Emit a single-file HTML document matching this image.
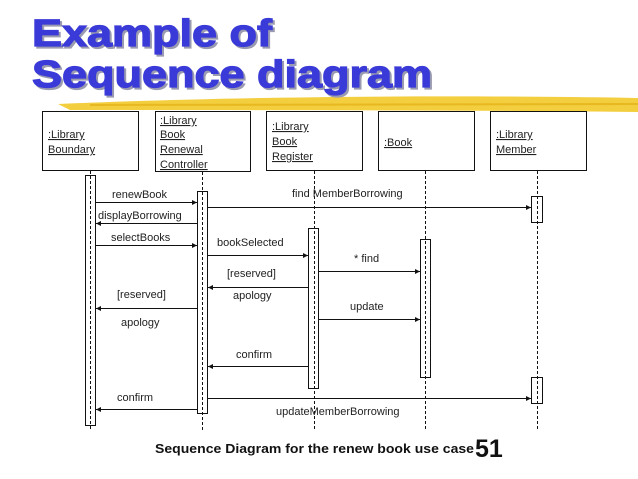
<!DOCTYPE html>
<html><head><meta charset="utf-8"><style>
html,body{margin:0;padding:0;background:#fff;}
svg{display:block;}
.t{font-family:"Liberation Sans",Arial,sans-serif;font-size:11px;fill:#222;}
.h{font-family:"Liberation Sans",Arial,sans-serif;font-weight:bold;font-size:38px;fill:#3a3ad8;stroke:#3a3ad8;stroke-width:1.2px;}
</style></head><body>
<svg width="638" height="479" viewBox="0 0 638 479" xmlns="http://www.w3.org/2000/svg">
<defs><marker id="a" markerWidth="6" markerHeight="6" refX="5" refY="3" orient="auto" markerUnits="userSpaceOnUse"><path d="M0,0.5 L5,3 L0,5.5z" fill="#111"/></marker></defs>
<!-- yellow brush -->
<path d="M58,104 C200,98 400,94 638,98 L638,112 C450,110 250,110 70,110 Z" fill="#f2c92a" opacity="0.9"/>
<path d="M90,105 L638,104" stroke="#e8b820" stroke-width="2"/>
<!-- title -->
<text class="h" x="34" y="48" textLength="240" lengthAdjust="spacingAndGlyphs" style="fill:#9a9ab0;stroke:#9a9ab0">Example of</text>
<text class="h" x="32" y="46" textLength="240" lengthAdjust="spacingAndGlyphs">Example of</text>
<text class="h" x="34" y="89" textLength="400" lengthAdjust="spacingAndGlyphs" style="fill:#9a9ab0;stroke:#9a9ab0">Sequence diagram</text>
<text class="h" x="32" y="87" textLength="400" lengthAdjust="spacingAndGlyphs">Sequence diagram</text>
<!-- boxes -->
<g fill="#fff" stroke="#111" stroke-width="1">
<rect x="42.5" y="111.5" width="96" height="59"/>
<rect x="155.5" y="111.5" width="95" height="60"/>
<rect x="266.5" y="111.5" width="96" height="59"/>
<rect x="378.5" y="111.5" width="96" height="59"/>
<rect x="490.5" y="111.5" width="96" height="59"/>
</g>
<g class="t" text-decoration="underline">
<text x="48" y="138">:Library</text><text x="48" y="153">Boundary</text>
<text x="160" y="124">:Library</text><text x="160" y="138">Book</text><text x="160" y="153">Renewal</text><text x="160" y="168">Controller</text>
<text x="272" y="130">:Library</text><text x="272" y="145">Book</text><text x="272" y="160">Register</text>
<text x="384" y="146">:Book</text>
<text x="496" y="138">:Library</text><text x="496" y="153">Member</text>
</g>
<!-- lifelines -->
<g stroke="#111" stroke-dasharray="3,2">
<line x1="90.5" y1="171" x2="90.5" y2="431"/>
<line x1="202.5" y1="172" x2="202.5" y2="431"/>
<line x1="314.5" y1="171" x2="314.5" y2="431"/>
<line x1="425.5" y1="171" x2="425.5" y2="431"/>
<line x1="537.5" y1="171" x2="537.5" y2="431"/>
</g>
<!-- activations -->
<g fill="none" stroke="#111">
<rect x="85.5" y="175.5" width="10" height="250"/>
<rect x="197.5" y="191.5" width="10" height="222"/>
<rect x="308.5" y="228.5" width="10" height="160"/>
<rect x="420.5" y="239.5" width="10" height="138"/>
<rect x="531.5" y="196.5" width="11" height="26"/>
<rect x="531.5" y="377.5" width="11" height="26"/>
</g>
<!-- messages -->
<g stroke="#111" marker-end="url(#a)">
<line x1="96" y1="202.5" x2="197" y2="202.5"/>
<line x1="197" y1="223.5" x2="96" y2="223.5"/>
<line x1="96" y1="245.5" x2="197" y2="245.5"/>
<line x1="208" y1="207.5" x2="531" y2="207.5"/>
<line x1="208" y1="255.5" x2="308" y2="255.5"/>
<line x1="308" y1="287.5" x2="208" y2="287.5"/>
<line x1="197" y1="308.5" x2="96" y2="308.5"/>
<line x1="319" y1="271.5" x2="420" y2="271.5"/>
<line x1="319" y1="319.5" x2="420" y2="319.5"/>
<line x1="308" y1="366.5" x2="208" y2="366.5"/>
<line x1="208" y1="398.5" x2="531" y2="398.5"/>
<line x1="197" y1="409.5" x2="96" y2="409.5"/>
</g>
<g class="t">
<text x="112" y="198">renewBook</text>
<text x="98" y="219">displayBorrowing</text>
<text x="111" y="241">selectBooks</text>
<text x="292" y="197">find MemberBorrowing</text>
<text x="217" y="246">bookSelected</text>
<text x="227" y="277">[reserved]</text>
<text x="233" y="299">apology</text>
<text x="117" y="298">[reserved]</text>
<text x="121" y="326">apology</text>
<text x="354" y="262">* find</text>
<text x="350" y="310">update</text>
<text x="236" y="358">confirm</text>
<text x="117" y="401">confirm</text>
<text x="276" y="415">updateMemberBorrowing</text>
</g>
<text x="155" y="453" font-family="Liberation Sans,Arial,sans-serif" font-weight="bold" font-size="13" fill="#111" textLength="319" lengthAdjust="spacingAndGlyphs">Sequence Diagram for the renew book use case</text>
<text x="475" y="457" font-family="Liberation Sans,Arial,sans-serif" font-weight="bold" font-size="25" fill="#111">51</text>
</svg>
</body></html>
